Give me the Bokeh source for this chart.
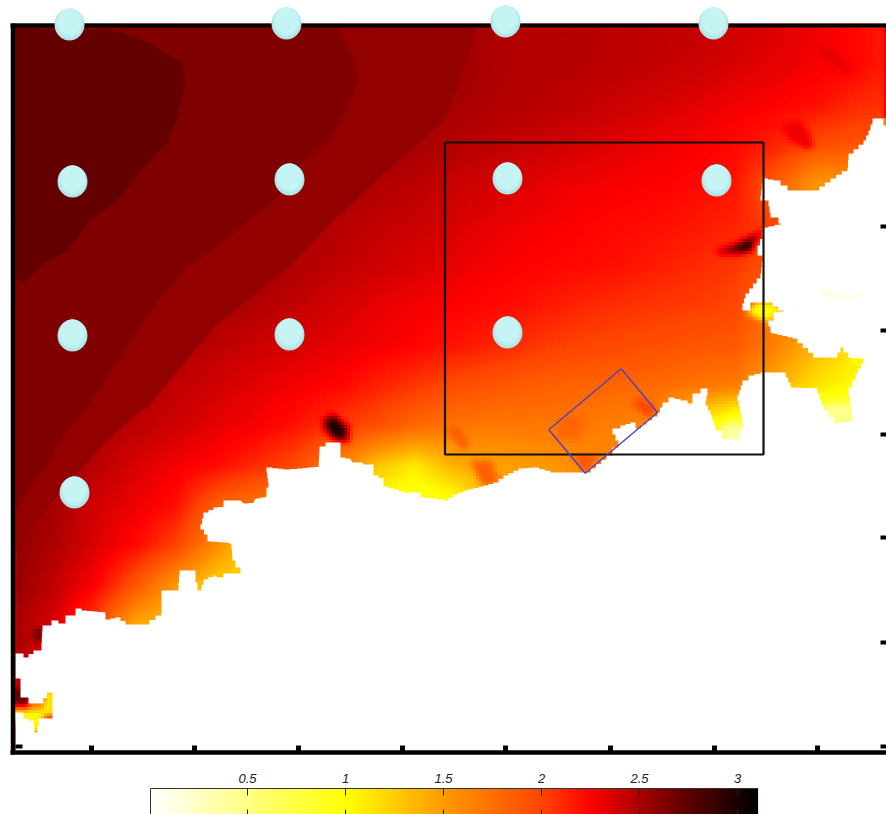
import numpy as np
from bokeh.plotting import figure
from bokeh.models import Range1d, LinearColorMapper
from bokeh.core.properties import value
from bokeh.embed import file_html
from bokeh.resources import INLINE

grid_x0, grid_dx = 15, 40
grid_y0, grid_dy = 25, 40
field = [
[2.72,2.72,2.72,2.72,2.70,2.63,2.63,2.63,2.62,2.56,2.55,2.53,2.48,2.46,2.46,2.44,2.43,2.42,2.38,2.35,2.30,2.22,2.15],
[2.72,2.72,2.72,2.72,2.70,2.63,2.63,2.63,2.62,2.58,2.55,2.52,2.48,2.46,2.45,2.44,2.42,2.40,2.36,2.32,2.27,2.24,2.12],
[2.72,2.72,2.72,2.72,2.64,2.63,2.63,2.63,2.60,2.56,2.54,2.50,2.47,2.45,2.43,2.40,2.37,2.33,2.28,2.25,2.20,2.10,2.05],
[2.72,2.72,2.72,2.70,2.64,2.63,2.63,2.60,2.55,2.54,2.50,2.46,2.43,2.40,2.37,2.33,2.30,2.27,2.22,2.13,1.95,1.90,1.90],
[2.72,2.72,2.71,2.64,2.63,2.63,2.60,2.55,2.52,2.47,2.44,2.40,2.37,2.33,2.29,2.27,2.25,2.22,2.18,1.85,1.50,1.50,1.50],
[2.72,2.70,2.64,2.63,2.63,2.60,2.55,2.52,2.46,2.42,2.40,2.36,2.31,2.28,2.25,2.22,2.20,2.17,2.12,2.00,1.90,1.90,1.90],
[2.70,2.64,2.63,2.62,2.60,2.56,2.53,2.47,2.43,2.40,2.36,2.31,2.27,2.24,2.22,2.20,2.15,2.10,2.05,1.90,1.90,1.90,1.90],
[2.64,2.63,2.63,2.58,2.54,2.50,2.47,2.42,2.38,2.32,2.28,2.25,2.22,2.18,2.12,2.08,2.05,2.03,1.98,1.70,1.50,1.40,1.40],
[2.63,2.62,2.56,2.53,2.48,2.44,2.40,2.36,2.32,2.28,2.24,2.18,2.12,2.05,2.00,1.97,1.94,1.90,1.88,1.65,1.35,1.15,1.10],
[2.63,2.57,2.54,2.48,2.43,2.38,2.33,2.28,2.24,2.14,2.05,1.95,1.90,1.85,1.82,1.80,1.78,1.72,1.68,1.40,1.15,1.00,1.00],
[2.62,2.55,2.50,2.44,2.39,2.32,2.27,2.19,2.05,1.95,1.80,1.72,1.70,1.70,1.70,1.65,1.60,1.10,0.70,0.60,0.60,0.50,0.50],
[2.60,2.55,2.45,2.36,2.28,2.22,2.10,1.95,1.70,1.30,1.10,1.40,1.45,1.50,1.55,1.60,1.60,1.60,1.60,1.60,1.60,1.60,1.60],
[2.57,2.50,2.38,2.30,2.20,1.85,1.70,1.60,1.50,0.95,0.85,0.90,1.50,1.50,1.50,1.50,1.50,1.50,1.50,1.50,1.50,1.50,1.50],
[2.57,2.48,2.35,2.22,2.00,1.60,1.20,1.50,1.50,1.50,1.50,1.50,1.50,1.50,1.50,1.50,1.50,1.50,1.50,1.50,1.50,1.50,1.50],
[2.55,2.42,2.25,1.90,1.50,1.20,1.20,1.50,1.50,1.50,1.50,1.50,1.50,1.50,1.50,1.50,1.50,1.50,1.50,1.50,1.50,1.50,1.50],
[2.50,2.35,2.00,1.40,1.30,1.30,1.30,1.50,1.50,1.50,1.50,1.50,1.50,1.50,1.50,1.50,1.50,1.50,1.50,1.50,1.50,1.50,1.50],
[2.45,2.30,1.90,1.30,1.30,1.30,1.30,1.50,1.50,1.50,1.50,1.50,1.50,1.50,1.50,1.50,1.50,1.50,1.50,1.50,1.50,1.50,1.50],
[2.40,2.30,1.90,1.30,1.30,1.30,1.30,1.50,1.50,1.50,1.50,1.50,1.50,1.50,1.50,1.50,1.50,1.50,1.50,1.50,1.50,1.50,1.50],
[2.40,2.30,1.90,1.30,1.30,1.30,1.30,1.50,1.50,1.50,1.50,1.50,1.50,1.50,1.50,1.50,1.50,1.50,1.50,1.50,1.50,1.50,1.50],
]

coast_x = [15,23,33,41,42,51,58,65,73,75,81,103,105,115,125,143,155,161,161,173,178,179,195,195,197,199,203,213,217,223,235,240,235,232,231,227,212,207,200,203,213,223,223,240,243,253,255,265,266,268,266,266,283,297,318,319,325,340,340,350,352,362,363,373,373,383,383,403,412,420,430,443,453,463,483,493,503,518,533,550,585,606,612,618,612,620,630,635,657,662,668,680,687,692,692,700,707,705,710,715,722,737,743,737,742,748,760,783,790,815,823,833,853,848,855,863,852,843,837,818,797,772,768,773,783,772,755,750,742,745,760,762,757,757,762,762,780,778,770,768,760,762,773,787,813,830,847,848,863,868,872,886,886,15,15,23,33,34,36,38,52,52,50,43,30,28,20,20,15]
coast_y = [653,657,650,642,625,620,623,615,615,608,610,612,619,617,624,624,615,609,590,590,582,570,570,582,590,590,579,574,577,573,573,567,560,555,544,542,541,534,524,512,507,506,500,500,503,502,498,496,487,482,467,467,469,468,466,446,442,442,457,459,462,462,464,464,475,480,486,492,492,497,498,500,494,490,485,482,475,468,467,472,472,455,447,440,428,425,422,428,412,402,397,400,403,410,393,388,395,405,415,430,438,440,422,395,380,375,372,372,387,388,410,423,420,387,373,358,357,347,357,357,338,332,320,312,310,302,302,310,303,293,273,255,253,245,232,227,223,217,212,200,195,178,180,190,190,178,167,153,140,130,118,118,752,752,712,718,722,732,732,718,718,692,692,703,703,697,695,678,675]

band_values = [2.57,2.62,2.71]
band_x = [[15,476,470,456,443,387,333,287,213,147,140,107,67,15],
          [15,337,353,358,347,330,300,277,233,187,160,137,113,87,67,47,15],
          [15,117,150,182,185,177,167,147,117,90,67,43,23,15]]
band_y = [[27,27,50,90,120,170,220,267,327,407,410,440,483,547],
          [27,27,57,80,107,140,163,197,233,267,297,330,367,407,430,463,510],
          [27,30,43,63,83,117,143,163,200,220,250,263,283,277]]

spot_values = [2.45,2.85,3.08, 2.42,2.65,3.0, 2.33,2.30, 1.0,1.0, 2.5,2.8, 1.85,1.85,1.8, 0.35,0.45, 1.9,2.0, 2.45,2.75,2.2,1.6,1.05,1.0,1.0]
spot_x = [[320,332,348,350,340,325],[324,334,346,342,330],[328,336,343,337],
          [712,740,762,762,745,725],[722,742,755,755,740],[735,747,752,750],
          [812,830,850,848,828],[780,800,815,808,790],
          [745,755,772,783,773,768,752],[850,860,862,850],
          [15,20,25,20,15],[33,42,42,35],
          [445,458,470,462],[470,490,500,482],[560,585,580,555],
          [720,745,745,725],[825,855,855,825],
          [570,600,585],[640,657,650,632],
          [12,24,24,12],[12,30,30,12],[12,30,30,12],[30,45,45,30],[45,56,56,45],[12,45,45,12],[25,40,40,25]]
spot_y = [[420,412,425,443,444,433],[419,416,430,439,434],[422,420,435,437],
          [251,240,228,236,254,255],[252,243,235,243,253],[246,240,244,252],
          [45,48,70,74,60],[125,120,145,150,140],
          [312,302,302,310,318,322,316],[350,350,360,366],
          [630,630,640,650,650],[632,625,640,642],
          [430,425,445,450],[462,460,482,485],[415,415,440,440],
          [425,425,445,445],[405,405,425,425],
          [455,455,472],[395,410,418,405],
          [670,670,692,692],[690,690,703,703],[703,703,709,709],[700,700,712,712],[688,688,716,716],[710,710,722,722],[716,716,735,735]]

pale_x = [818,835,850,866,860,842,825]
pale_y = [286,293,296,288,296,300,296]
olive_x = [883,886,886,883]
olive_y = [118,118,125,125]

tick_x = [91,194,298,402,505,610,714,817]
tick_right_y = [226,330,434,537,642,746]
box_x = [444.5,763,763,444.5,444.5]
box_y = [142,142,454,454,142]
rot_x = [620.7,657,584.7,548.3,620.7]
rot_y = [368.3,412,472.7,429.3,368.3]

dot_x = [69,286,505,713,72,289,507,716,72,289,507,74]
dot_y = [24,23,21,23,181,179,178,180,335,334,332,492]

cbar_ticks = [0.5,1,1.5,2,2.5,3]
cbar_labels = ["0.5","1","1.5","2","2.5","3"]
cbar_max = 3.1

anchors_v = [0,1,1.5,2,2.25,2.5,2.7,3.1]
anchors_c = [(255,255,255),(255,255,0),(255,153,0),(255,68,0),(255,0,0),(168,0,0),(104,0,0),(0,0,0)]
vv = np.linspace(0,cbar_max,256)
palette = ["#%02x%02x%02x"%tuple(int(round(np.interp(v,anchors_v,[c[i] for c in anchors_c]))) for i in range(3)) for v in vv]
mapper = LinearColorMapper(palette=palette,low=0,high=cbar_max)
def col(v): return palette[int(min(255,round(v/cbar_max*255)))]

def stairs(xs,ys,step=5):
    ox,oy=[xs[0]],[ys[0]]
    for a,b,c,d in zip(xs[:-1],ys[:-1],xs[1:],ys[1:]):
        n=int(max(abs(c-a),abs(d-b))//step)
        if c!=a and d!=b and n>=1:
            for k in range(1,n+1):
                ox+=[a+(c-a)*k/n,a+(c-a)*k/n]
                oy+=[b+(d-b)*(k-1)/n,b+(d-b)*k/n]
        else:
            ox.append(c);oy.append(d)
    return ox,oy

def inside(X,Y,px,py):
    px=np.array(px,float);py=np.array(py,float)
    m=np.zeros(X.shape,bool)
    for i in range(len(px)):
        j=(i+1)%len(px)
        c=((py[i]>Y)!=(py[j]>Y))&(X<(px[j]-px[i])*(Y-py[i])/(py[j]-py[i]+1e-9)+px[i])
        m^=c
    return m

F=np.array(field)
nr,nc=F.shape
gx=grid_x0+grid_dx*np.arange(nc); gy=grid_y0+grid_dy*np.arange(nr)
px_step=3
fx=np.arange(12,888,px_step); fy=np.arange(24,760,px_step)
tmp=np.array([np.interp(fx,gx,row) for row in F])
fine=np.array([np.interp(fy,gy,tmp[:,k]) for k in range(tmp.shape[1])]).T
XX,YY=np.meshgrid(fx,fy)
for v,sx,sy in zip(spot_values,spot_x,spot_y):
    fine[inside(XX,YY,sx,sy)]=v
def blur(a):
    for ax in (0,1):
        a=(np.roll(a,1,ax)+2*a+np.roll(a,-1,ax))/4
    return a
for _ in range(2):
    fine=blur(fine)

p = figure(width=886,height=814,x_range=Range1d(0,886),y_range=Range1d(814,0),
           output_backend="svg",toolbar_location=None,min_border=0,outline_line_color=None)
p.xaxis.visible=False; p.yaxis.visible=False; p.grid.visible=False

p.image(image=[fine],x=fx[0]-px_step/2,y=fy[0]-px_step/2,dw=len(fx)*px_step,dh=len(fy)*px_step,color_mapper=mapper)
p.patches(band_x,band_y,fill_color=[col(v) for v in band_values],line_color=None)
cx,cy=stairs(coast_x,coast_y)
p.patch(cx,cy,fill_color="white",line_color=None)
p.patch(pale_x,pale_y,fill_color="#fffde2",line_color=None)
p.patch(olive_x,olive_y,fill_color="#d09000",line_color=None)
p.patch([0,886,886,0],[0,0,23,23],fill_color="white",line_color=None)
p.patch([0,12,12,0],[0,0,814,814],fill_color="white",line_color=None)
p.patch([0,886,886,0],[752,752,814,814],fill_color="white",line_color=None)

p.line([12.5,12.5],[23,754],line_color="black",line_width=4.5)
p.line([10,886],[25,25],line_color="black",line_width=4)
p.line([10,886],[752,752],line_color="black",line_width=4.5)
p.segment(x0=tick_x,y0=[751]*len(tick_x),x1=tick_x,y1=[745]*len(tick_x),line_color="black",line_width=5)
p.segment(x0=[880]*len(tick_right_y),y0=tick_right_y,x1=[886]*len(tick_right_y),y1=tick_right_y,line_color="black",line_width=4)
p.segment(x0=[15],y0=[746],x1=[22],y1=[746],line_color="black",line_width=4)
p.line(box_x,box_y,line_color="#111111",line_width=2.2)
p.line(rot_x,rot_y,line_color="#5040c8",line_width=1.4)

for off,shr,c in [(0,0,"#a9dde0"),(0,1.2,"#b2e5e8"),(-1.5,3,"#bdeef0"),(-3,6,"#c6f4f5")]:
    p.ellipse(x=dot_x,y=[y+off for y in dot_y],width=30-shr,height=32-shr,fill_color=c,line_color=None)

bar=np.linspace(0,cbar_max,256).reshape(1,-1)
bar_x0=150; bar_pxunit=196
p.image(image=[bar],x=bar_x0,y=788,dw=cbar_max*bar_pxunit,dh=26,color_mapper=mapper)
p.line([bar_x0,bar_x0,bar_x0+cbar_max*bar_pxunit],[814,788,788],line_color="#333333",line_width=1)
tx=[bar_x0-1+t*bar_pxunit for t in cbar_ticks]
p.segment(x0=tx,y0=[788]*6,x1=tx,y1=[795]*6,line_color="#222222",line_width=1)
p.segment(x0=tx,y0=[809]*6,x1=tx,y1=[814]*6,line_color="#222222",line_width=1)
p.text(x=tx,y=[777.5]*6,text=cbar_labels,text_font=value("Liberation Sans"),text_font_style="italic",text_font_size="13px",
       text_color="#222222",text_align="center",text_baseline="middle")

open("out.html","w").write(file_html(p,INLINE))
